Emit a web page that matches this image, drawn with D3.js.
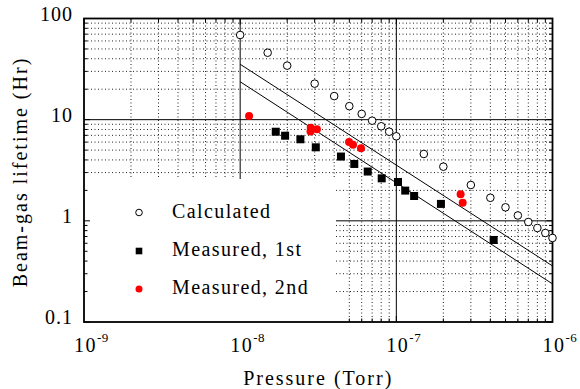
<!DOCTYPE html>
<html>
<head>
<meta charset="utf-8">
<script src="https://cdn.jsdelivr.net/npm/d3@7"></script>
<style>
  body { margin: 0; background: #fff; }
  svg text { font-family: "Liberation Serif", "Times New Roman", serif; fill: #000; }
</style>
</head>
<body>
<svg id="chart"></svg>
<script>
// values
const calcPressure = [1e-8, 1.5e-8, 2e-8, 3e-8, 4e-8, 5e-8, 6e-8, 7e-8, 8e-8, 9e-8, 1e-7,
  1.5e-7, 2e-7, 3e-7, 4e-7, 5e-7, 6e-7, 7e-7, 8e-7, 9e-7, 1e-6];
const calcLifetime = [68.7, 45.9, 34.2, 22.7, 17.1, 13.6, 11.4, 9.77, 8.6, 7.6, 6.85,
  4.58, 3.43, 2.26, 1.69, 1.36, 1.13, 0.974, 0.85, 0.758, 0.677];

const meas1Pressure = [1.69e-8, 1.94e-8, 2.43e-8, 3.05e-8, 4.42e-8, 5.38e-8, 6.56e-8,
  8.06e-8, 1.025e-7, 1.14e-7, 1.3e-7, 1.93e-7, 4.2e-7];
const meas1Lifetime = [7.6, 6.94, 6.4, 5.33, 4.32, 3.65, 3.07, 2.63, 2.42, 1.99, 1.76, 1.47, 0.647];

const meas2Pressure = [1.14e-8, 2.83e-8, 2.82e-8, 3.1e-8, 4.98e-8, 5.28e-8, 5.94e-8, 2.58e-7, 2.66e-7];
const meas2Lifetime = [10.9, 8.33, 7.64, 8.03, 6.02, 5.66, 5.21, 1.83, 1.51];

const fitPressure = [1e-8, 1e-6];
const fitUpper = [35.3, 0.358];
const fitLower = [23.7, 0.238];

const xExponents = [-9, -8, -7, -6];
const yTickValues = [100, 10, 1, 0.1];
const yTickLabels = ['100', '10', '1', '0.1'];
const legendLabels = ['Calculated', 'Measured, 1st', 'Measured, 2nd'];

const width = 580;
const height = 389;
const plotLeft = 84;
const plotRight = 552.5;
const plotTop = 18.5;
const plotBottom = 322;

const x = d3.scaleLog().domain([1e-9, 1e-6]).range([plotLeft, plotRight]);
const y = d3.scaleLog().domain([0.1, 100]).range([plotBottom, plotTop]);

const svg = d3.select('#chart')
  .attr('width', width)
  .attr('height', height);

const isPow = v => Math.abs(Math.log10(v) - Math.round(Math.log10(v))) < 1e-6;
const xTicks = x.ticks();
const yTicks = y.ticks();

// dotted minor grid
const grid = svg.append('g');
grid.selectAll('.gx')
  .data(xTicks.filter(v => !isPow(v)))
  .enter().append('line')
  .attr('x1', d => x(d)).attr('x2', d => x(d))
  .attr('y1', plotTop).attr('y2', plotBottom)
  .attr('stroke', '#222').attr('stroke-width', 1)
  .attr('stroke-dasharray', '1,2.5');
grid.selectAll('.gy')
  .data(yTicks.filter(v => !isPow(v)))
  .enter().append('line')
  .attr('x1', plotLeft).attr('x2', plotRight)
  .attr('y1', d => y(d)).attr('y2', d => y(d))
  .attr('stroke', '#222').attr('stroke-width', 1)
  .attr('stroke-dasharray', '1,2.5');

// solid decade grid
grid.selectAll('.mx')
  .data([1e-8, 1e-7])
  .enter().append('line')
  .attr('x1', d => x(d)).attr('x2', d => x(d))
  .attr('y1', plotTop).attr('y2', plotBottom)
  .attr('stroke', '#000').attr('stroke-width', 1);
grid.selectAll('.my')
  .data([10, 1])
  .enter().append('line')
  .attr('x1', plotLeft).attr('x2', plotRight)
  .attr('y1', d => y(d)).attr('y2', d => y(d))
  .attr('stroke', '#000').attr('stroke-width', 1);

// legend box blanks the grid behind it
const boxRight = 336;
const boxTop = 179;
svg.append('rect')
  .attr('x', plotLeft).attr('y', boxTop)
  .attr('width', boxRight - plotLeft).attr('height', plotBottom - boxTop)
  .attr('fill', '#fff');

// frame
svg.append('rect')
  .attr('x', plotLeft).attr('y', plotTop)
  .attr('width', plotRight - plotLeft).attr('height', plotBottom - plotTop)
  .attr('fill', 'none').attr('stroke', '#000').attr('stroke-width', 1.8);

// inward ticks
const tickLen = d => isPow(d) ? 6 : 3.5;
const ticks = svg.append('g').attr('stroke', '#000').attr('stroke-width', 1);
ticks.selectAll('.tl').data(yTicks).enter().append('line')
  .attr('x1', plotLeft).attr('x2', d => plotLeft + tickLen(d))
  .attr('y1', d => y(d)).attr('y2', d => y(d));
ticks.selectAll('.tr').data(yTicks).enter().append('line')
  .attr('x1', plotRight).attr('x2', d => plotRight - tickLen(d))
  .attr('y1', d => y(d)).attr('y2', d => y(d));
ticks.selectAll('.tt').data(xTicks).enter().append('line')
  .attr('x1', d => x(d)).attr('x2', d => x(d))
  .attr('y1', plotTop).attr('y2', d => plotTop + tickLen(d));
ticks.selectAll('.tb').data(xTicks.filter(d => x(d) > boxRight)).enter().append('line')
  .attr('x1', d => x(d)).attr('x2', d => x(d))
  .attr('y1', plotBottom).attr('y2', d => plotBottom - tickLen(d));

// fit lines
const line = d3.line()
  .x(d => x(d[0]))
  .y(d => y(d[1]));
[fitUpper, fitLower].forEach(vals => {
  svg.append('path')
    .datum(fitPressure.map((p, i) => [p, vals[i]]))
    .attr('d', line)
    .attr('fill', 'none')
    .attr('stroke', '#000')
    .attr('stroke-width', 1);
});

// points
svg.append('g').selectAll('circle')
  .data(calcPressure.map((p, i) => [p, calcLifetime[i]]))
  .enter().append('circle')
  .attr('cx', d => x(d[0])).attr('cy', d => y(d[1]))
  .attr('r', 3.8)
  .attr('fill', '#fff').attr('stroke', '#000').attr('stroke-width', 1);

svg.append('g').selectAll('rect')
  .data(meas1Pressure.map((p, i) => [p, meas1Lifetime[i]]))
  .enter().append('rect')
  .attr('x', d => x(d[0]) - 4).attr('y', d => y(d[1]) - 4)
  .attr('width', 8).attr('height', 8)
  .attr('fill', '#000');

svg.append('g').selectAll('circle')
  .data(meas2Pressure.map((p, i) => [p, meas2Lifetime[i]]))
  .enter().append('circle')
  .attr('cx', d => x(d[0])).attr('cy', d => y(d[1]))
  .attr('r', 4)
  .attr('fill', '#ff0000');

// legend
const legendY = [212.5, 251, 289];
const legendX = 139;
const leg = svg.append('g');
leg.append('circle')
  .attr('cx', legendX).attr('cy', legendY[0]).attr('r', 3.3)
  .attr('fill', '#fff').attr('stroke', '#000').attr('stroke-width', 1);
leg.append('rect')
  .attr('x', legendX - 3.3).attr('y', legendY[1] - 3.3)
  .attr('width', 6.6).attr('height', 6.6)
  .attr('fill', '#000');
leg.append('circle')
  .attr('cx', legendX).attr('cy', legendY[2]).attr('r', 3.5)
  .attr('fill', '#ff0000');
leg.selectAll('text')
  .data(legendLabels)
  .enter().append('text')
  .attr('x', 172)
  .attr('y', (d, i) => legendY[i] + 5)
  .attr('font-size', 20)
  .attr('letter-spacing', 1.4)
  .text(d => d);

// y tick labels
svg.append('g').selectAll('text')
  .data(yTickValues)
  .enter().append('text')
  .attr('x', plotLeft - 11)
  .attr('y', d => y(d) + 2)
  .attr('text-anchor', 'end')
  .attr('font-size', 20)
  .attr('letter-spacing', 1)
  .text((d, i) => yTickLabels[i]);

// x tick labels: 10 with superscript exponent
const xl = svg.append('g').selectAll('text')
  .data(xExponents)
  .enter().append('text')
  .attr('x', d => x(Math.pow(10, d)) - 10)
  .attr('y', 351.5)
  .attr('font-size', 20)
  .attr('letter-spacing', 1.5);
xl.append('tspan').text('10');
xl.append('tspan')
  .attr('dy', -10)
  .attr('font-size', 13)
  .attr('letter-spacing', 0.5)
  .text(d => String(d));

// axis titles
svg.append('text')
  .attr('x', (plotLeft + plotRight) / 2)
  .attr('y', 385)
  .attr('text-anchor', 'middle')
  .attr('font-size', 20)
  .attr('letter-spacing', 2)
  .text('Pressure (Torr)');

svg.append('text')
  .attr('transform', 'translate(27,172) rotate(-90)')
  .attr('text-anchor', 'middle')
  .attr('font-size', 20)
  .attr('letter-spacing', 2)
  .text('Beam-gas lifetime (Hr)');
</script>
</body>
</html>
